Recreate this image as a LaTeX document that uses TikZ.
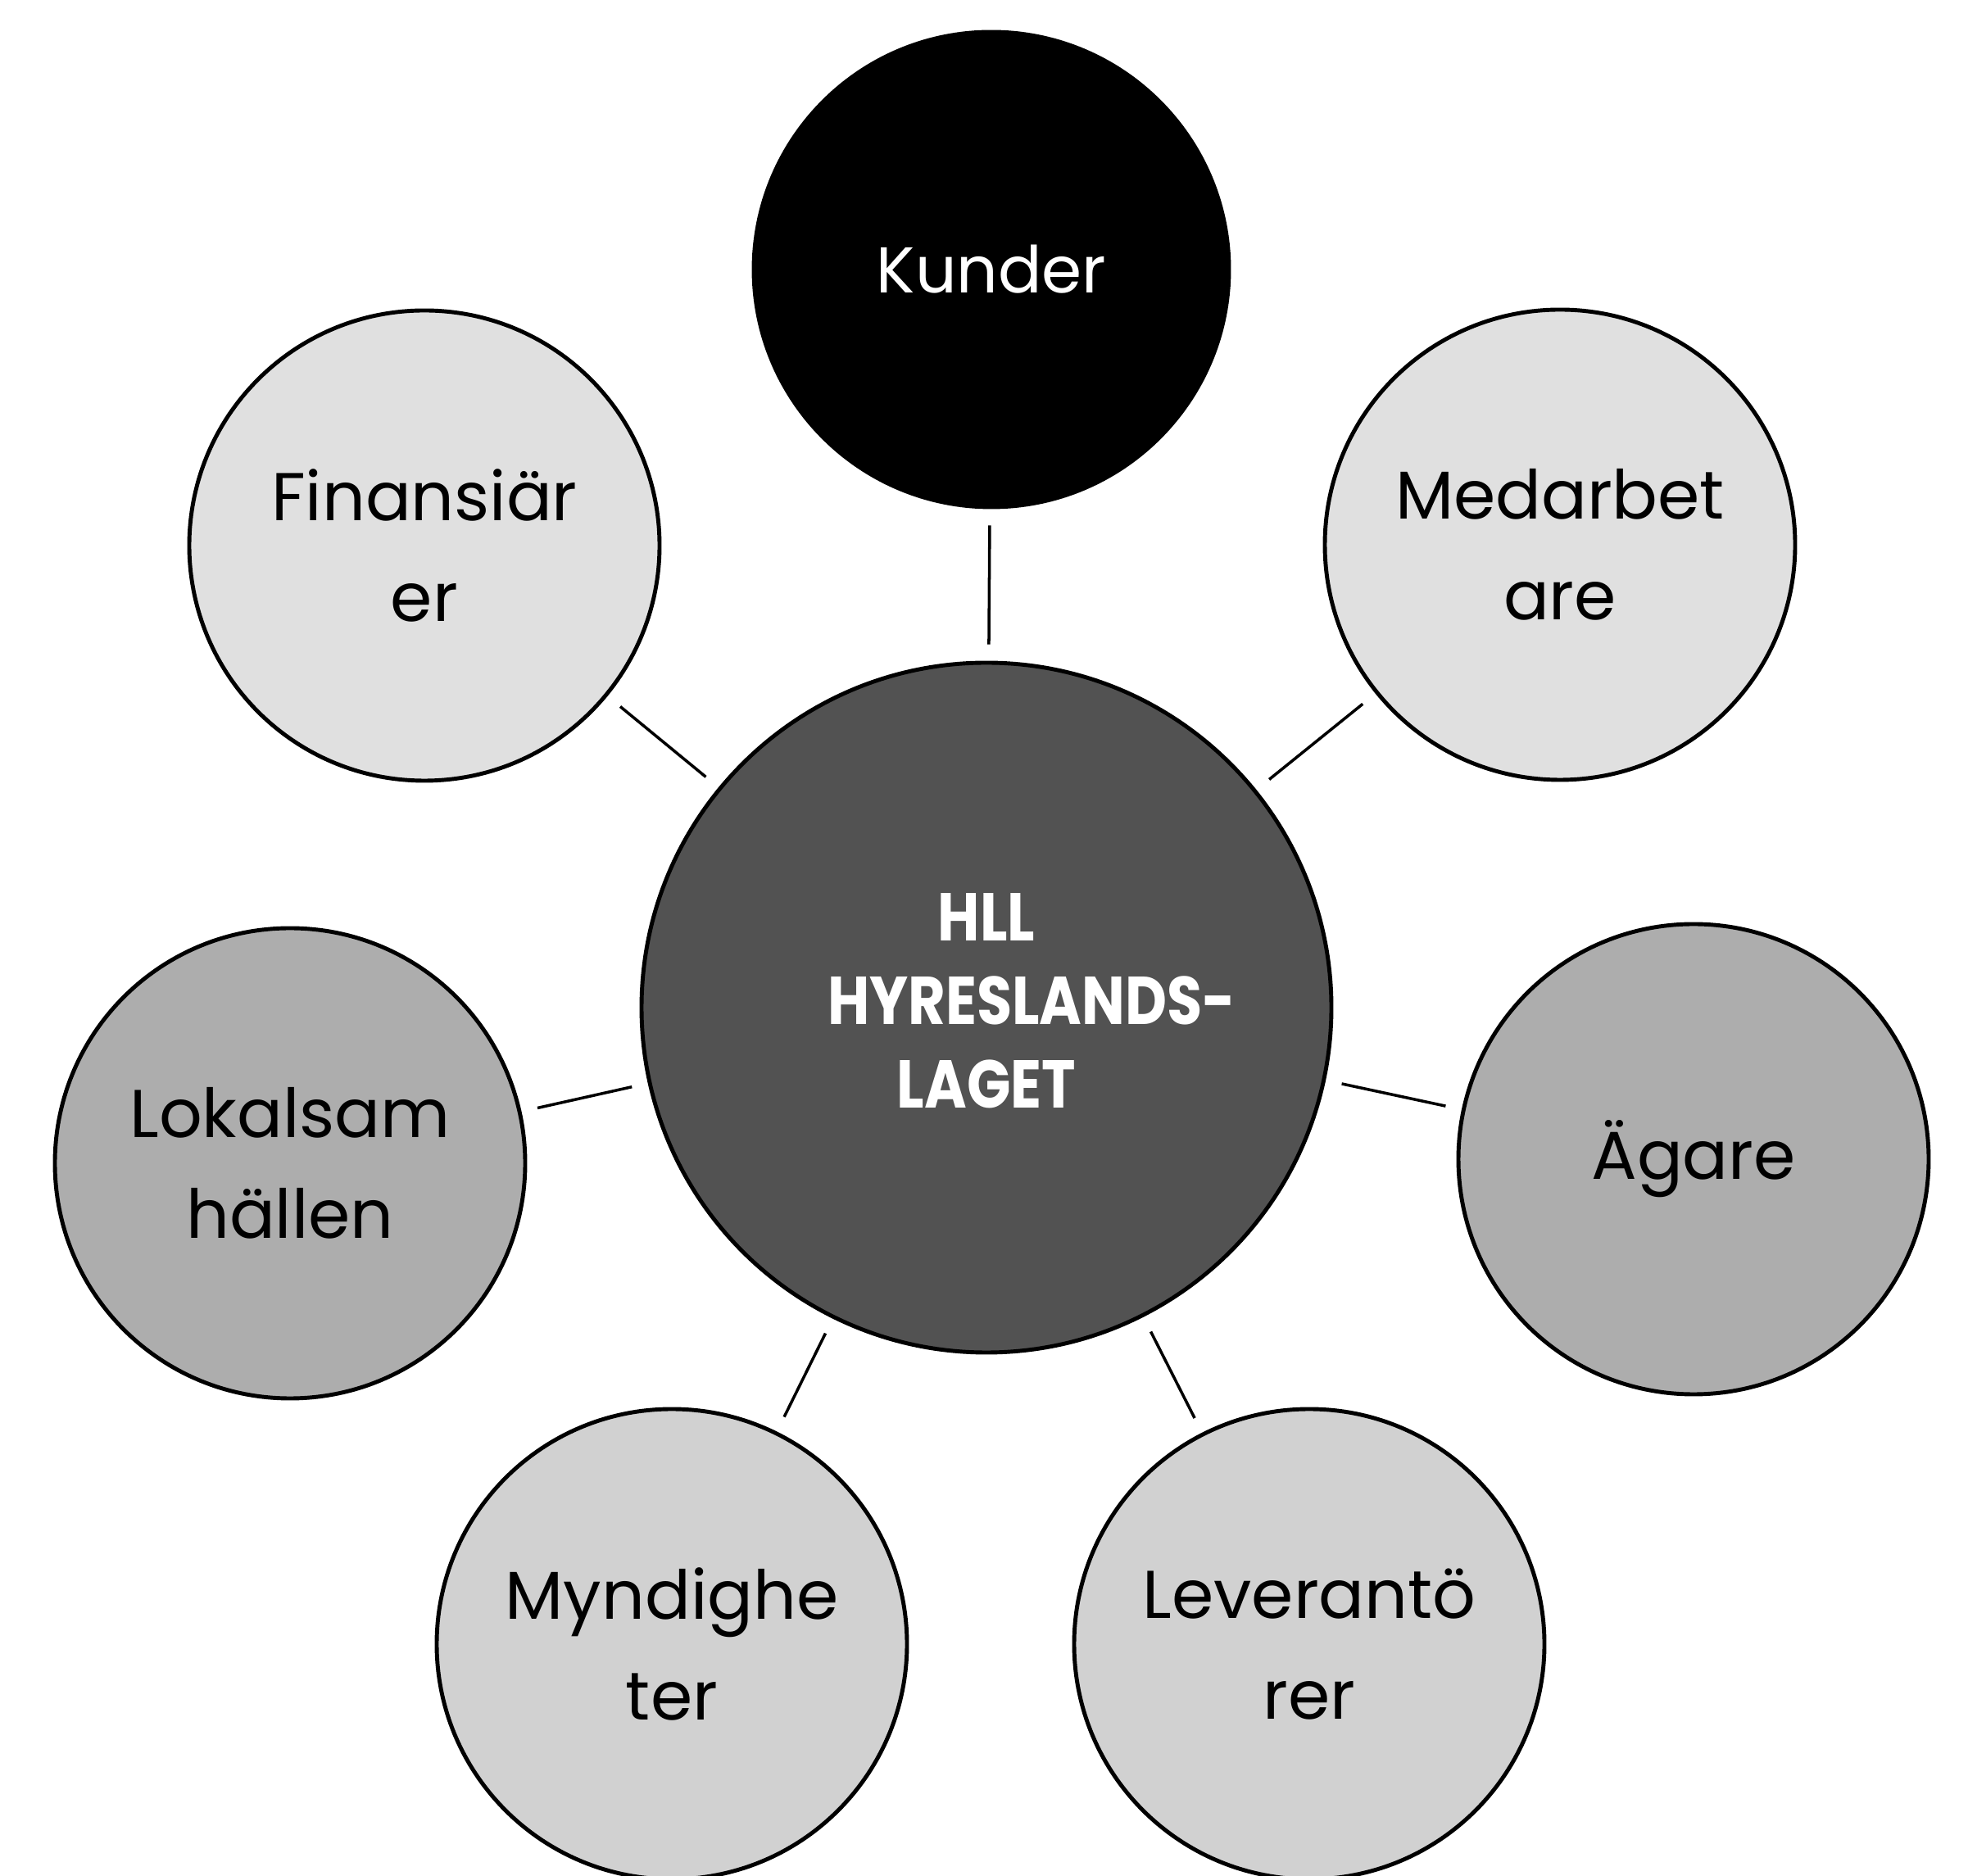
\documentclass[tikz,border=0pt]{standalone}
\usepackage{fontspec}
\usepackage{graphicx}
\setmainfont{Poppins}

\tikzset{
  role/.style={circle, draw, line width=1.4pt, minimum size=5.74cm, inner sep=0pt,
    align=center, font=\fontsize{23.5}{35}\selectfont},
  link/.style={line width=1pt, shorten <=0.2cm, shorten >=0.2cm}
}

\begin{document}
\begin{tikzpicture}
 \useasboundingbox (0,0) rectangle (24.02,22.89);
 % centre
 \node (hll) [circle, draw, line width=1.4pt, fill=black!68, minimum size=8.42cm, text=white,
   font=\bfseries\fontsize{23.5}{29}\selectfont] at (12.04,10.59)
   {\scalebox{.85}[1]{\begin{tabular}{@{}c@{}}HLL\\\hspace*{1.3cm}HYRESLANDS-\\LAGET\end{tabular}}};
 % stakeholders
 \node (kunder) [role, fill=black, text=white, minimum size=5.8cm, font=\fontsize{22.5}{30}\selectfont] at (12.10,19.60) {Kunder};
 \node (finans) [role, fill=black!12] at (5.18,16.23) {Finansiär\\er};
 \node (medarb) [role, fill=black!12] at (19.04,16.24) {Medarbet\\are};
 \node (lokal) [role, fill=black!32] at (3.54,8.69) {Lokalsam\\hällen};
 \node (agare) [role, fill=black!32] at (20.67,8.74) {Ägare};
 \node (myndig) [role, fill=black!18] at (8.20,2.82) {Myndighe\\ter};
 \node (lever) [role, fill=black!18] at (15.98,2.82) {Leverantö\\rer};
 \foreach \n in {kunder, finans, medarb, lokal, agare, myndig, lever}
   \draw[link] (hll) -- (\n);
\end{tikzpicture}
\end{document}
